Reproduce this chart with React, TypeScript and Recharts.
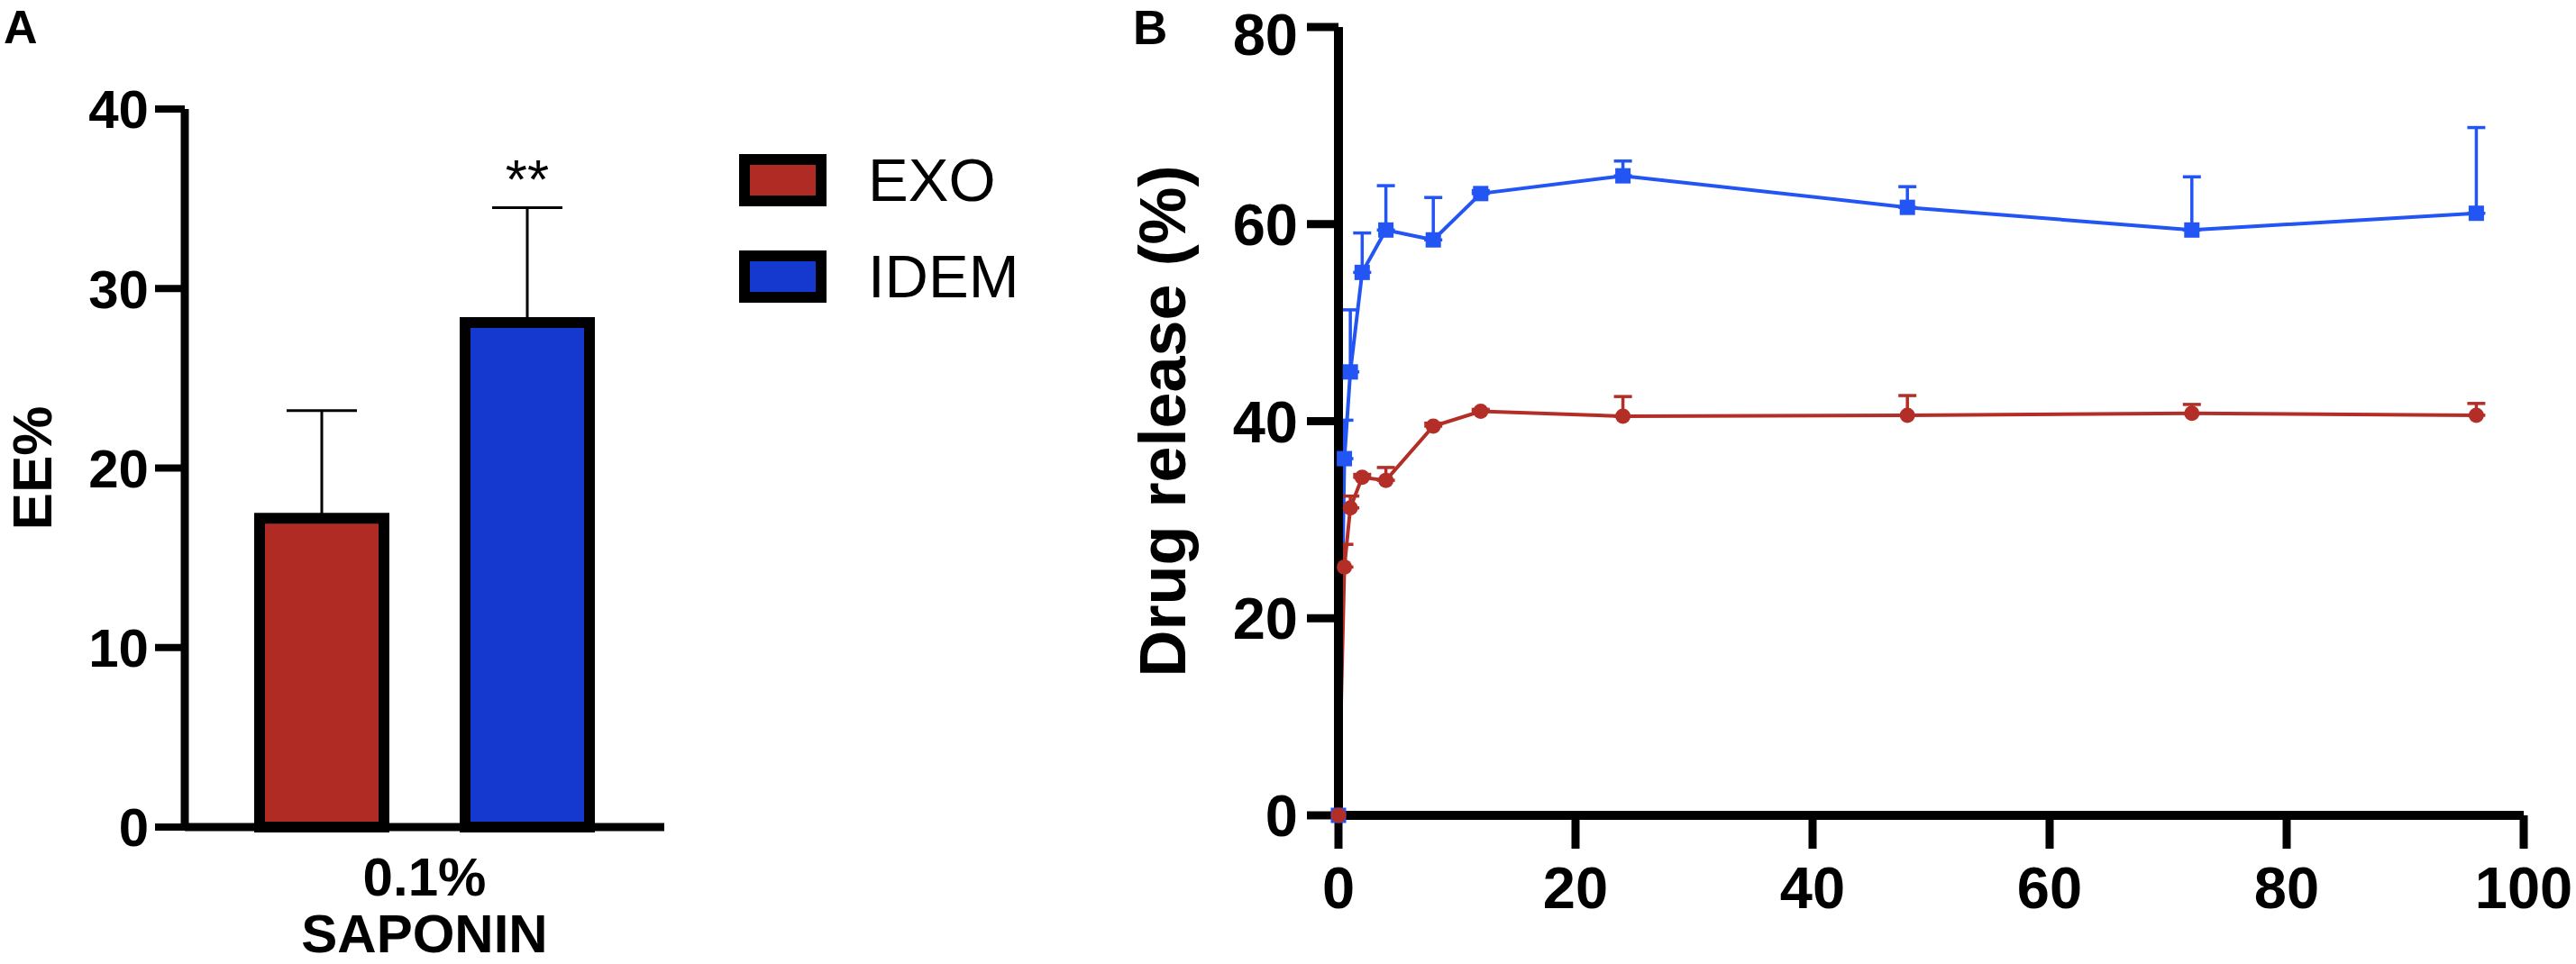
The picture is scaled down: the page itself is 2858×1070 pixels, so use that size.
import React from 'react'
import { BarChart, Bar, LineChart, Line, XAxis, YAxis, ErrorBar, Legend, LabelList } from 'recharts'

const FONT = '"Liberation Sans", Arial, Helvetica, sans-serif'

// Panel A - encapsulation efficiency
const groups = ['0.1%\nSAPONIN']
const exoEE = [17.2]
const exoEESd = [6.0]
const idemEE = [28.1]
const idemEESd = [6.4]
const idemSig = ['**']
const eeTicks = [0, 10, 20, 30, 40]

// Panel B - release over time (h)
const hours = [0, 0.5, 1, 2, 4, 8, 12, 24, 48, 72, 96]
const exoRelease = [0, 25.2, 31.2, 34.3, 34.0, 39.5, 41.0, 40.5, 40.6, 40.8, 40.6]
const exoReleaseSd = [0, 2.3, 1.2, 0.3, 1.3, 0.3, 0.2, 2.0, 2.0, 0.9, 1.2]
const idemRelease = [0, 36.2, 45.0, 55.1, 59.4, 58.4, 63.1, 64.9, 61.7, 59.4, 61.1]
const idemReleaseSd = [0, 3.9, 6.3, 4.0, 4.5, 4.3, 0.3, 1.5, 2.1, 5.4, 8.7]
const releaseTicks = [0, 20, 40, 60, 80]
const hourTicks = [0, 20, 40, 60, 80, 100]

const BAR_RED = '#B02B24'
const BAR_BLUE = '#1538CF'
const LINE_RED = '#B42E28'
const LINE_BLUE = '#2354F4'

const barData = groups.map((g, i) => ({
    group: g,
    exo: exoEE[i],
    exoErr: [0, exoEESd[i]],
    idem: idemEE[i],
    idemErr: [0, idemEESd[i]],
    sig: idemSig[i],
}))

const lineData = hours.map((t, i) => ({
    t,
    exo: exoRelease[i],
    exoErr: [0, exoReleaseSd[i]],
    idem: idemRelease[i],
    idemErr: [0, idemReleaseSd[i]],
}))

const tickFont = { fill: '#000', fontWeight: 'bold', fontFamily: FONT }

const GroupTick = ({ x, y, payload }: any) => {
    const lines = String(payload.value).split('\n')
    return (
        <text x={x} y={y} textAnchor="middle" fontFamily={FONT} fontWeight="bold" fontSize={60} fill="#000">
            {lines.map((l, i) => (
                <tspan key={i} x={x} dy={i === 0 ? 76 : 63}>{l}</tspan>
            ))}
        </text>
    )
}

// "**" sits just above the top of the error bar
const SigLabel = (props: any) => {
    const vb = props.viewBox ?? props
    const { x, y, width, height } = vb
    const idx = props.index ?? 0
    if (!props.value) return null
    const capY = y - (idemEESd[idx] * Math.abs(height)) / idemEE[idx]
    return (
        <text x={x + width / 2} y={capY - 11} textAnchor="middle" fontFamily={FONT} fontSize={62} fill="#000">
            {props.value}
        </text>
    )
}

const axisTitle = (text: string, dx: number, size: number) => (p: any) => {
    const vb = p.viewBox
    const cx = vb.x + dx
    const cy = vb.y + vb.height / 2
    return (
        <text x={cx} y={cy} transform={`rotate(-90 ${cx} ${cy})`} textAnchor="middle"
            fontFamily={FONT} fontWeight="bold" fontSize={size} fill="#000">
            {text}
        </text>
    )
}

const BoxLegend = ({ payload }: any) => (
    <div style={{ fontFamily: FONT }}>
        {(payload || []).map((e: any) => (
            <div key={e.value} style={{ display: 'flex', alignItems: 'center', height: 58, marginBottom: 49 }}>
                <div style={{ width: 97, height: 58, boxSizing: 'border-box', border: '12px solid #000', background: e.color }} />
                <span style={{ marginLeft: 46, fontSize: 67, lineHeight: '58px', color: '#000' }}>{e.value}</span>
            </div>
        ))}
    </div>
)

const SquareDot = (p: any) =>
    p.cx == null ? <g key={`s${p.index}`} /> :
    <rect key={`s${p.index}`} x={p.cx - 8.5} y={p.cy - 8.5} width={17} height={17} fill={LINE_BLUE} />

const RoundDot = (p: any) =>
    p.cx == null ? <g key={`c${p.index}`} /> :
    <circle key={`c${p.index}`} cx={p.cx} cy={p.cy} r={8.5} fill={LINE_RED} />

export default function App() {
    return (
        <div style={{ position: 'absolute', left: 0, top: 0, width: 2858, height: 1070, background: '#fff' }}>
            <div style={{ position: 'absolute', left: 0, top: 0 }}>
                <BarChart width={1200} height={1070} data={barData}
                    margin={{ top: 121, right: 463, bottom: 0, left: 0 }} barGap={90} barSize={138}>
                    <XAxis dataKey="group" height={152} tickSize={0} tickMargin={0} tickLine={false}
                        axisLine={{ stroke: '#000', strokeWidth: 9 }} tick={<GroupTick />} interval={0} />
                    <YAxis width={205} domain={[0, 40]} ticks={eeTicks} tickSize={33} tickMargin={7}
                        axisLine={{ stroke: '#000', strokeWidth: 9 }} tickLine={{ stroke: '#000', strokeWidth: 8 }}
                        tick={{ ...tickFont, fontSize: 60 }}
                        label={{ content: axisTitle('EE%', 57, 62) }} />
                    <Legend layout="vertical" align="center" verticalAlign="middle"
                        wrapperStyle={{ left: 820, top: 171, width: 360 }} content={<BoxLegend />} />
                    <Bar dataKey="exo" name="EXO" fill={BAR_RED} stroke="#000" strokeWidth={12} isAnimationActive={false}>
                        <ErrorBar dataKey="exoErr" direction="y" width={39} stroke="#000" strokeWidth={3} isAnimationActive={false} />
                    </Bar>
                    <Bar dataKey="idem" name="IDEM" fill={BAR_BLUE} stroke="#000" strokeWidth={12} isAnimationActive={false}>
                        <ErrorBar dataKey="idemErr" direction="y" width={39} stroke="#000" strokeWidth={3} isAnimationActive={false} />
                        <LabelList dataKey="sig" content={<SigLabel />} />
                    </Bar>
                </BarChart>
            </div>
            <div style={{ position: 'absolute', left: 1200, top: 0 }}>
                <LineChart width={1658} height={1070} data={lineData}
                    margin={{ top: 30, right: 58, bottom: 65, left: 0 }}>
                    <XAxis dataKey="t" type="number" domain={[0, 100]} ticks={hourTicks} height={100}
                        tickSize={37} tickMargin={20}
                        axisLine={{ stroke: '#000', strokeWidth: 10 }} tickLine={{ stroke: '#000', strokeWidth: 9 }}
                        tick={{ ...tickFont, fontSize: 65 }} />
                    <YAxis width={285} domain={[0, 80]} ticks={releaseTicks} tickSize={35} tickMargin={10}
                        axisLine={{ stroke: '#000', strokeWidth: 10 }} tickLine={{ stroke: '#000', strokeWidth: 9 }}
                        tick={{ ...tickFont, fontSize: 65 }}
                        label={{ content: axisTitle('Drug release (%)', 115, 72) }} />
                    <Line type="linear" dataKey="idem" stroke={LINE_BLUE} strokeWidth={4} dot={SquareDot}
                        activeDot={false} isAnimationActive={false}>
                        <ErrorBar dataKey="idemErr" direction="y" width={10} stroke={LINE_BLUE} strokeWidth={3.5} isAnimationActive={false} />
                    </Line>
                    <Line type="linear" dataKey="exo" stroke={LINE_RED} strokeWidth={4} dot={RoundDot}
                        activeDot={false} isAnimationActive={false}>
                        <ErrorBar dataKey="exoErr" direction="y" width={10} stroke={LINE_RED} strokeWidth={3.5} isAnimationActive={false} />
                    </Line>
                </LineChart>
            </div>
            <svg width={2858} height={1070} style={{ position: 'absolute', left: 0, top: 0, pointerEvents: 'none' }}>
                <text x={4} y={48} fontFamily={FONT} fontWeight="bold" fontSize={52} fill="#000">A</text>
                <text x={1257} y={49} fontFamily={FONT} fontWeight="bold" fontSize={53} fill="#000">B</text>
            </svg>
        </div>
    )
}
